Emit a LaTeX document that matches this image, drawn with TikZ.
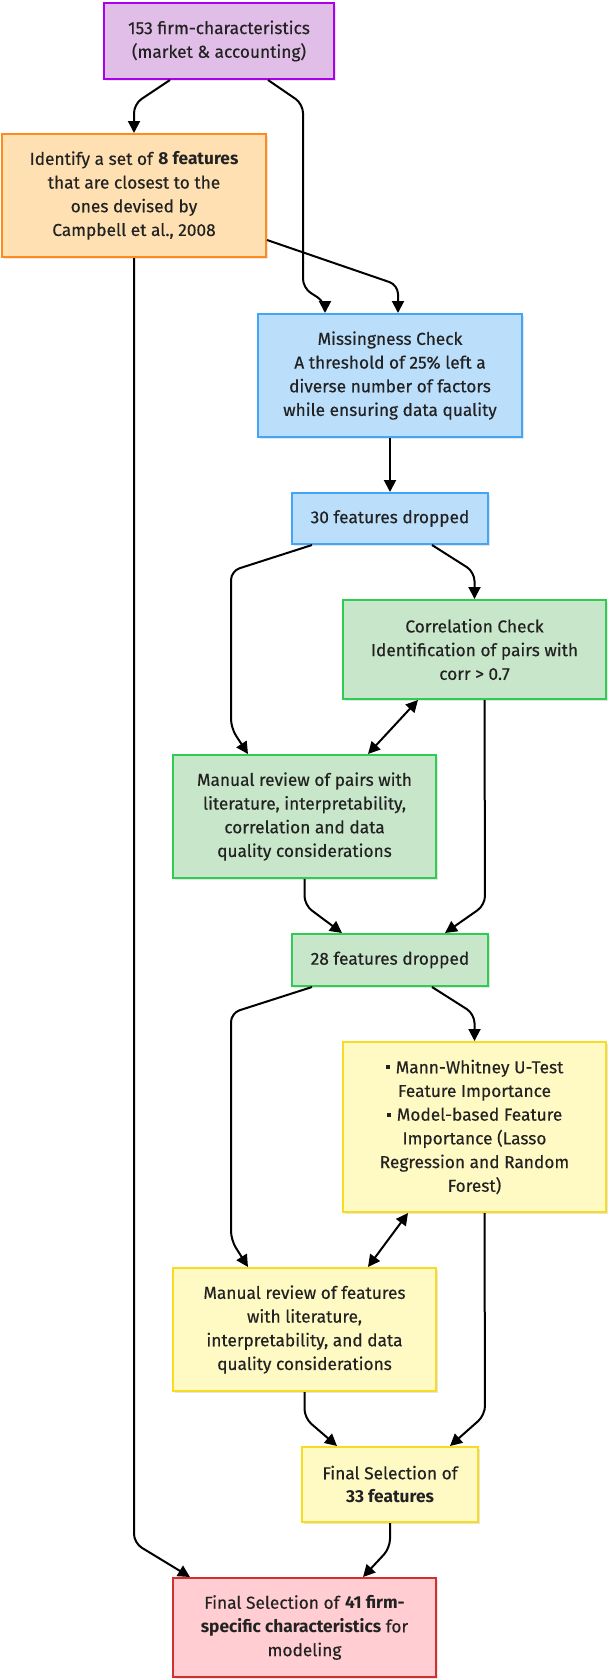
\documentclass[tikz,border=0pt]{standalone}
\usepackage{fontspec}
\setmainfont{Fira Sans}[UprightFeatures={FakeBold=0.35}]
\usetikzlibrary{arrows.meta,calc,shadows}
\definecolor{pfill}{HTML}{E1BEE7}\definecolor{pdraw}{HTML}{AA00EE}
\definecolor{ofill}{HTML}{FFE0B2}\definecolor{odraw}{HTML}{FF8A1E}
\definecolor{bfill}{HTML}{BBDEFB}\definecolor{bdraw}{HTML}{42A5F5}
\definecolor{gfill}{HTML}{C8E6C9}\definecolor{gdraw}{HTML}{2ECC50}
\definecolor{yfill}{HTML}{FFF9C4}\definecolor{ydraw}{HTML}{F8DC20}
\definecolor{rfill}{HTML}{FFCDD2}\definecolor{rdraw}{HTML}{D32F2F}
\definecolor{txt}{HTML}{222222}
\newcommand{\bul}{\rule[0.22em]{0.24em}{0.24em}\hspace{0.35em}}
\tikzset{
  box/.style={draw, line width=2pt, align=center, inner sep=0pt, text=txt,
    font=\fontsize{17.3}{23.7}\selectfont,
    drop shadow={shadow xshift=2pt, shadow yshift=-2pt, opacity=0.10, fill=black}},
  conn/.style={line width=2pt, rounded corners=9pt, -{Triangle[length=12pt,width=12pt]}},
  dconn/.style={line width=2pt, {Triangle[length=12pt,width=12pt]}-{Triangle[length=12pt,width=12pt]}},
}
\begin{document}
\begin{tikzpicture}[x=1pt,y=-1pt]
\useasboundingbox (0,0) rectangle (608,1679);
\node[box, fill=pfill, draw=pdraw, minimum width=230pt, minimum height=76pt] (purple) at (219,41) {153 firm-characteristics\\(market \& accounting)};
\node[box, fill=ofill, draw=odraw, minimum width=264pt, minimum height=123pt] (orange) at (134,195.5) {Identify a set of \textbf{8 features}\\that are closest to the\\ones devised by\\Campbell et al., 2008};
\node[box, fill=bfill, draw=bdraw, minimum width=264pt, minimum height=123pt] (miss) at (390,375.5) {Missingness Check\\A threshold of 25\% left a\\diverse number of factors\\while ensuring data quality};
\node[box, fill=bfill, draw=bdraw, minimum width=196pt, minimum height=51pt] (d30) at (390,518.5) {30 features dropped};
\node[box, fill=gfill, draw=gdraw, minimum width=263pt, minimum height=99pt] (corr) at (474.5,649.5) {Correlation Check\\Identification of pairs with\\corr > 0.7};
\node[box, fill=gfill, draw=gdraw, minimum width=263pt, minimum height=123pt] (man1) at (304.5,816.5) {Manual review of pairs with\\literature, interpretability,\\correlation and data\\quality considerations};
\node[box, fill=gfill, draw=gdraw, minimum width=196pt, minimum height=52pt] (d28) at (390,960) {28 features dropped};
\node[box, fill=yfill, draw=ydraw, minimum width=263pt, minimum height=170pt] (mw) at (474.5,1127) {\bul Mann-Whitney U-Test\\Feature Importance\\\bul Model-based Feature\\Importance (Lasso\\Regression and Random\\Forest)};
\node[box, fill=yfill, draw=ydraw, minimum width=263pt, minimum height=123pt] (man2) at (304.5,1329.5) {Manual review of features\\with literature,\\interpretability, and data\\quality considerations};
\node[box, fill=yfill, draw=ydraw, minimum width=176pt, minimum height=75pt] (f33) at (390,1484.5) {Final Selection of\\\textbf{33 features}};
\node[box, fill=rfill, draw=rdraw, minimum width=263pt, minimum height=99pt] (red) at (304.5,1627.5) {Final Selection of \textbf{41 firm-}\\\textbf{specific characteristics} for\\modeling};

\draw[conn] ([xshift=-49pt]purple.south) -- (134,104) -- (orange.north);
\draw[conn] ([xshift=49pt]purple.south) -- (303,104) -- (303,288) -- (325,302) -- ([xshift=-65pt]miss.north);
\draw[conn] ([yshift=-44.5pt]orange.east) -- (398,285) -- ([xshift=8pt]miss.north);
\draw[conn] (miss.south) -- (d30.north);
\draw[conn] ([xshift=42pt]d30.south) -- (474.5,572) -- (corr.north);
\draw[conn] ([xshift=-78pt]d30.south) -- (231,571) -- (231,728) -- ([xshift=-56.5pt]man1.north);
\draw[dconn] ([xshift=-56.5pt]corr.south) -- ([xshift=63.5pt]man1.north);
\draw[conn] ([xshift=10pt]corr.south) -- (485,905) -- ([xshift=55pt]d28.north);
\draw[conn] (man1.south) -- (304.5,905) -- ([xshift=-48pt]d28.north);
\draw[conn] ([xshift=42pt]d28.south) -- (474.5,1014) -- (mw.north);
\draw[conn] ([xshift=-78pt]d28.south) -- (231,1013) -- (231,1240) -- ([xshift=-56.5pt]man2.north);
\draw[dconn] ([xshift=-66.5pt]mw.south) -- ([xshift=63.5pt]man2.north);
\draw[conn] ([xshift=10pt]mw.south) -- (485,1415) -- ([xshift=60pt]f33.north);
\draw[conn] (man2.south) -- (304.5,1418) -- ([xshift=-53pt]f33.north);
\draw[conn] (f33.south) -- (390,1548) -- ([xshift=58.5pt]red.north);
\draw[conn] (orange.south) -- (134,1543) -- ([xshift=-114.5pt]red.north);
\end{tikzpicture}
\end{document}
